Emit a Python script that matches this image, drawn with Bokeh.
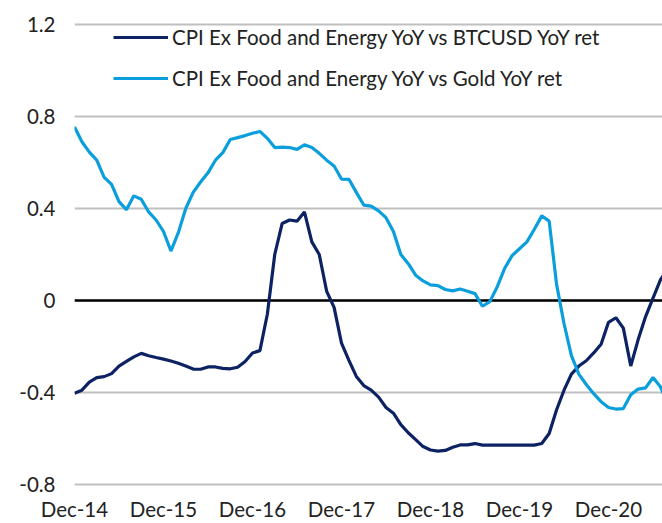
from bokeh.plotting import figure
from bokeh.models import Range1d, FixedTicker, Span, Legend, LegendItem
from bokeh.embed import file_html
from bokeh.resources import INLINE

# Monthly observations starting Dec-14 (index 0)
btc_vs_cpi = [
    -0.403, -0.39, -0.355, -0.335, -0.331, -0.318, -0.285, -0.265, -0.245, -0.23,
    -0.24, -0.248, -0.255, -0.263, -0.273, -0.285, -0.298, -0.299, -0.289, -0.289,
    -0.295, -0.297, -0.29, -0.265, -0.228, -0.218, -0.06, 0.20, 0.335, 0.35,
    0.345, 0.385, 0.255, 0.20, 0.04, -0.03, -0.185, -0.26, -0.33, -0.37,
    -0.39, -0.42, -0.465, -0.49, -0.54, -0.575, -0.605, -0.635, -0.65, -0.655,
    -0.652, -0.638, -0.628, -0.628, -0.622, -0.629, -0.629, -0.629, -0.629, -0.629,
    -0.629, -0.629, -0.629, -0.622, -0.578, -0.475, -0.39, -0.32, -0.285, -0.262,
    -0.228, -0.19, -0.095, -0.075, -0.12, -0.285, -0.17, -0.07, 0.01, 0.09,
    0.14,
]
gold_vs_cpi = [
    0.755, 0.69, 0.645, 0.61, 0.535, 0.505, 0.43, 0.395, 0.455, 0.44,
    0.385, 0.35, 0.30, 0.215, 0.295, 0.40, 0.47, 0.515, 0.555, 0.61,
    0.643, 0.70, 0.708, 0.717, 0.727, 0.735, 0.705, 0.665, 0.667, 0.665,
    0.657, 0.677, 0.665, 0.64, 0.61, 0.585, 0.528, 0.527, 0.47, 0.415,
    0.41, 0.39, 0.36, 0.30, 0.20, 0.16, 0.11, 0.085, 0.068, 0.065,
    0.048, 0.042, 0.05, 0.04, 0.03, -0.025, -0.005, 0.06, 0.14, 0.195,
    0.225, 0.255, 0.31, 0.368, 0.345, 0.07, -0.10, -0.24, -0.32, -0.365,
    -0.405, -0.44, -0.465, -0.472, -0.47, -0.41, -0.385, -0.38, -0.335, -0.375,
    -0.45,
]
months = list(range(len(btc_vs_cpi)))

x_tick_pos = [0, 12, 24, 36, 48, 60, 72]
x_tick_labels = ["Dec-14", "Dec-15", "Dec-16", "Dec-17", "Dec-18", "Dec-19", "Dec-20"]
y_ticks = [-0.8, -0.4, 0.0, 0.4, 0.8, 1.2]
y_tick_labels = ["-0.8", "-0.4", "0", "0.4", "0.8", "1.2"]

series_names = ["CPI Ex Food and Energy YoY vs BTCUSD YoY ret",
                "CPI Ex Food and Energy YoY vs Gold YoY ret"]

NAVY = "#0c2262"
LIGHT = "#0a9fdc"
TEXT = "#222222"
FONT = "Lato"
FS = "20.5px"

p = figure(width=662, height=523, output_backend="svg", toolbar_location=None,
           x_range=Range1d(0, 79.28), y_range=Range1d(-0.8174, 1.2174),
           min_border_left=74, min_border_right=0, min_border_top=20,
           min_border_bottom=34)
p.outline_line_color = None
p.background_fill_color = "white"

p.xgrid.grid_line_color = None
p.ygrid.grid_line_color = "#bfbfbf"
p.ygrid.grid_line_width = 2
p.ygrid.ticker = FixedTicker(ticks=y_ticks)

p.yaxis.ticker = FixedTicker(ticks=y_ticks)
p.yaxis.major_label_overrides = {t: l for t, l in zip(y_ticks, y_tick_labels)}
p.xaxis.ticker = FixedTicker(ticks=x_tick_pos)
p.xaxis.major_label_overrides = {t: l for t, l in zip(x_tick_pos, x_tick_labels)}

for ax in (p.xaxis[0], p.yaxis[0]):
    ax.axis_line_color = None
    ax.major_tick_line_color = None
    ax.minor_tick_line_color = None
    ax.major_tick_in = 0
    ax.major_tick_out = 0
    ax.minor_tick_in = 0
    ax.minor_tick_out = 0
    ax.major_label_text_font = FONT
    ax.major_label_text_font_size = FS
    ax.major_label_text_color = TEXT
p.yaxis.major_label_standoff = 19
p.xaxis.major_label_standoff = 8

zero = Span(location=0, dimension="width", line_color="black", line_width=2.5,
            level="underlay")
p.add_layout(zero)

r1 = p.line(months, btc_vs_cpi, line_color=NAVY, line_width=3.2)
r2 = p.line(months, gold_vs_cpi, line_color=LIGHT, line_width=3.2)

legend = Legend(items=[LegendItem(label=series_names[0], renderers=[r1]),
                       LegendItem(label=series_names[1], renderers=[r2])],
                location=(39, 397), orientation="vertical",
                padding=0, margin=0, spacing=15,
                glyph_width=55, glyph_height=26, label_height=26,
                label_standoff=4,
                label_text_font=FONT, label_text_font_size=FS,
                label_text_color=TEXT,
                border_line_color=None, background_fill_alpha=0)
p.add_layout(legend)

open("out.html", "w").write(file_html(p, INLINE))
